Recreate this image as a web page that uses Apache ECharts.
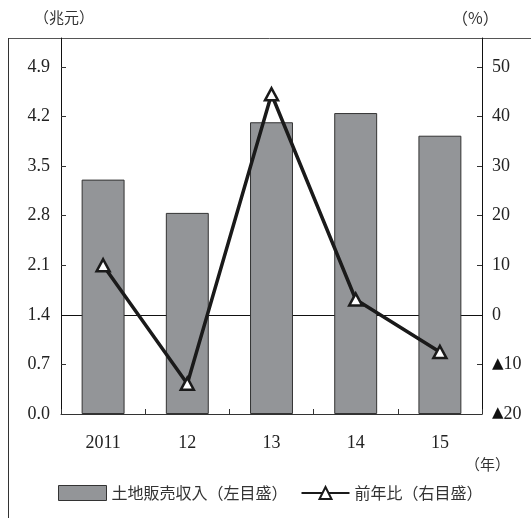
<!DOCTYPE html>
<html>
<head>
<meta charset="utf-8">
<script src="https://cdn.jsdelivr.net/npm/echarts@6/dist/echarts.min.js"></script>
<style>
html,body{margin:0;padding:0;background:#fff;}
#chart{width:531px;height:518px;}
</style>
</head>
<body>
<div id="chart"></div>
<script>
var categories = ['2011', '12', '13', '14', '15'];
var landSales = [3.31, 2.84, 4.12, 4.25, 3.93];
var yoyGrowth = [10.0, -13.9, 44.5, 3.1, -7.5];
var leftUnit = '（兆元）';
var rightUnit = '（%）';
var xUnit = '（年）';
var seriesNames = ['土地販売収入（左目盛）', '前年比（右目盛）'];

var serif = '"Liberation Serif", "DejaVu Sans", "Noto Sans CJK JP", serif';
var cjk = '"Noto Sans CJK JP", "Liberation Serif", sans-serif';

var chart = echarts.init(document.getElementById('chart'), null, {renderer: 'canvas'});
chart.setOption({
  animation: false,
  backgroundColor: '#fff',
  grid: {left: 61, right: 49, top: 38, bottom: 104, containLabel: false},
  legend: {
    left: 53, top: 480,
    itemWidth: 48, itemHeight: 15, itemGap: 13,
    textStyle: {fontFamily: cjk, fontSize: 16, color: '#333'},
    data: [
      {name: seriesNames[0], icon: 'rect', itemStyle: {color: '#939598', borderColor: '#333', borderWidth: 1}},
      {name: seriesNames[1]}
    ]
  },
  graphic: [
    {type: 'line', shape: {x1: 8, y1: 38.5, x2: 531, y2: 38.5}, style: {stroke: '#555', lineWidth: 1}, silent: true},
    {type: 'line', shape: {x1: 8.5, y1: 38, x2: 8.5, y2: 518}, style: {stroke: '#333', lineWidth: 1}, silent: true},
    {type: 'text', left: 34, top: 10, style: {text: leftUnit, font: '15px ' + cjk, fill: '#333'}},
    {type: 'text', left: 452, top: 10, style: {text: rightUnit, font: '16px ' + cjk, fill: '#333'}},
    {type: 'text', left: 465, top: 457, style: {text: xUnit, font: '15px ' + cjk, fill: '#333'}}
  ],
  xAxis: {
    type: 'category',
    data: categories,
    boundaryGap: true,
    axisLine: {lineStyle: {color: '#333', width: 1}},
    axisTick: {show: true, inside: true, length: 5, lineStyle: {color: '#333'}},
    axisLabel: {fontFamily: serif, fontSize: 18, color: '#222', margin: 20}
  },
  yAxis: [
    {
      type: 'value', min: 0, max: 5.31, interval: 0.7,
      axisLine: {show: true, lineStyle: {color: '#111', width: 1}},
      axisTick: {show: true, inside: true, length: 5, lineStyle: {color: '#333'}},
      splitLine: {show: false},
      axisLabel: {
        fontFamily: serif, fontSize: 18, color: '#222', margin: 11, showMaxLabel: false,
        formatter: function (v) { return v.toFixed(1); }
      }
    },
    {
      type: 'value', min: -20, max: 55.85, interval: 10,
      axisLine: {show: true, lineStyle: {color: '#111', width: 1}},
      axisTick: {show: true, inside: true, length: 5, lineStyle: {color: '#333'}},
      splitLine: {show: false},
      axisLabel: {
        fontFamily: serif, fontSize: 18, color: '#222', margin: 10, showMaxLabel: false,
        formatter: function (v) { return v < 0 ? '{tri|▲}{num|' + (-v) + '}' : '{num|' + v + '}'; },
        rich: {
          tri: {fontFamily: '"DejaVu Sans"', fontSize: 15, color: '#111', padding: [0, 0, 1, 0]},
          num: {fontFamily: serif, fontSize: 18, color: '#222'}
        }
      }
    }
  ],
  series: [
    {
      name: seriesNames[0], type: 'bar', yAxisIndex: 0, data: landSales,
      barCategoryGap: '49%',
      itemStyle: {color: '#939598', borderColor: '#333', borderWidth: 1}
    },
    {
      name: seriesNames[1], type: 'line', yAxisIndex: 1, data: yoyGrowth,
      symbol: 'triangle', symbolSize: [13, 12], showAllSymbol: true,
      lineStyle: {color: '#1a1a1a', width: 3.5},
      itemStyle: {color: '#fff', borderColor: '#1a1a1a', borderWidth: 2.5},
      z: 3,
      markLine: {
        silent: true, symbol: 'none', label: {show: false},
        lineStyle: {color: '#111', width: 1, type: 'solid'},
        data: [{yAxis: 0}],
        z: 2
      }
    }
  ]
});
</script>
</body>
</html>
